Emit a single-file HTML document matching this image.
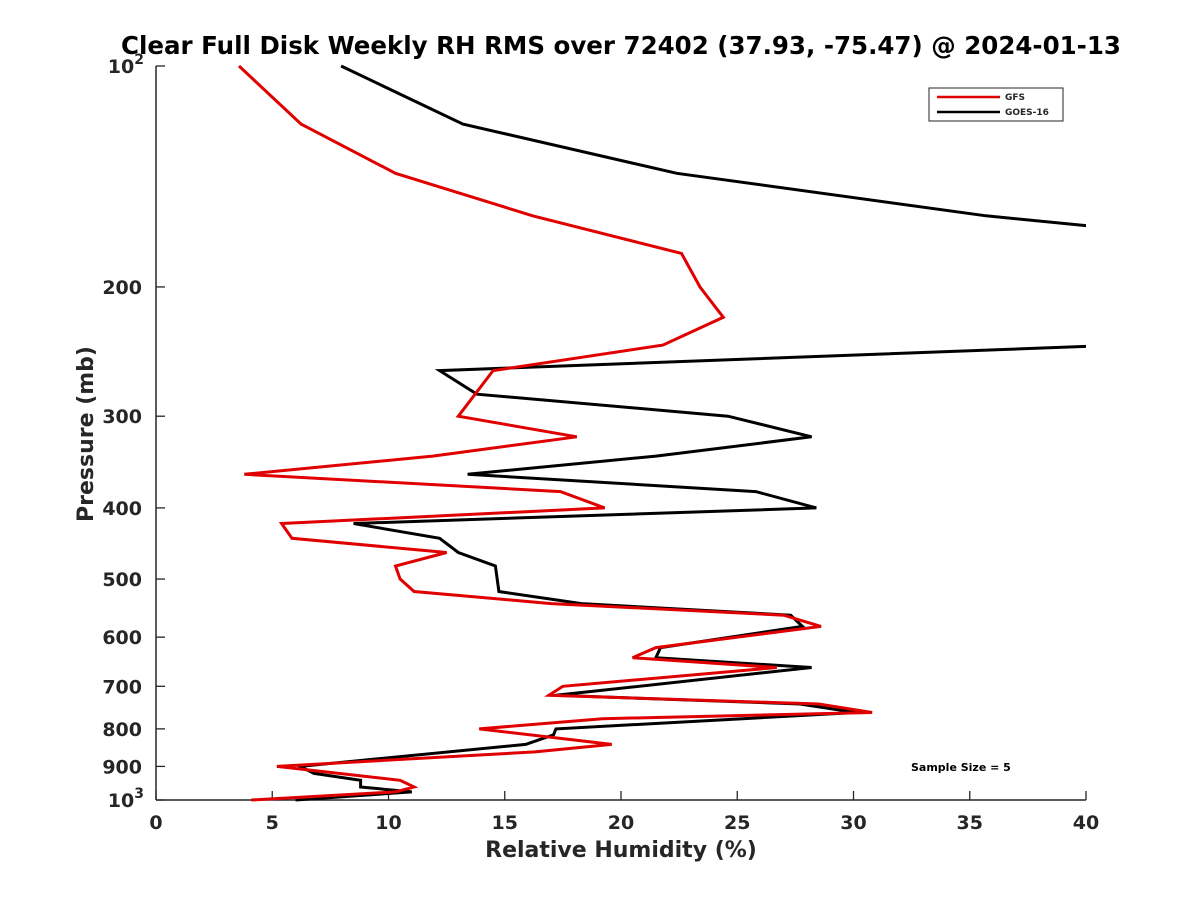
<!DOCTYPE html>
<html><head><meta charset="utf-8"><style>
body{margin:0;background:#fff;font-family:"Liberation Sans",sans-serif;}
svg text{font-family:"DejaVu Sans","Liberation Sans",sans-serif;font-weight:bold;fill:#262626;}
</style></head><body>
<svg id="chart" width="1200" height="900" xmlns="http://www.w3.org/2000/svg">
<rect width="1200" height="900" fill="#fff"/>
<text x="621" y="54" text-anchor="middle" font-size="24.5" style="fill:#000">Clear Full Disk Weekly RH RMS over 72402 (37.93, -75.47) @ 2024-01-13</text>
<defs><clipPath id="plotclip"><rect x="156" y="60" width="930" height="745"/></clipPath></defs>
<g id="axes"></g>
<g id="series" clip-path="url(#plotclip)"></g>
<text x="621" y="857" text-anchor="middle" font-size="22">Relative Humidity (%)</text>
<text transform="translate(93,434) rotate(-90)" text-anchor="middle" font-size="22">Pressure (mb)</text>
<g>
<rect x="929" y="88" width="134" height="33" fill="#fff" stroke="#262626" stroke-width="1"/>
<line x1="937" y1="97" x2="1000" y2="97" stroke="#e00000" stroke-width="2.5"/>
<text x="1005" y="100" font-size="9">GFS</text>
<line x1="937" y1="112" x2="1000" y2="112" stroke="#000" stroke-width="2.5"/>
<text x="1005" y="115" font-size="9">GOES-16</text>
</g>
<text x="911" y="771" font-size="11" style="fill:#000">Sample Size = 5</text>
</svg>
<script>
const gfsLevels=[100,120,140,160,180,200,220,240,260,300,320,340,360,380,400,420,440,460,480,500,520,540,560,580,620,640,660,700,720,740,760,775,800,840,860,900,940,960,975,1000];
const gfsValues=[3.57,6.24,10.3,16.2,22.6,23.4,24.4,21.8,14.5,13.0,18.1,11.9,3.8,17.4,19.3,5.4,5.85,12.5,10.3,10.5,11.1,17.0,27.0,28.6,21.5,20.5,26.7,17.5,16.9,28.5,30.8,19.2,13.9,19.6,16.3,5.2,10.5,11.1,10.3,4.1];
const goesLevels=[100,120,140,160,165,180,200,220,240,260,280,300,320,340,360,380,400,420,440,460,480,520,540,560,580,620,640,660,720,740,760,800,815,840,900,920,940,960,975,1000];
const goesValues=[7.96,13.2,22.4,35.7,40,60,75,70,41.5,12.2,13.8,24.6,28.2,21.5,13.4,25.8,28.4,8.5,12.2,13.0,14.6,14.75,18.3,27.3,27.8,21.7,21.5,28.2,17.2,27.7,30.1,17.2,17.1,15.9,6.2,6.8,8.8,8.8,11.0,6.0];
const xTicks=[0,5,10,15,20,25,30,35,40];
const yTicks=[100,200,300,400,500,600,700,800,900,1000];
const yTickLabels=["10|2","200","300","400","500","600","700","800","900","10|3"];
const X0=156,X1=1086,Y0=66,Y1=800;
const xs=v=>X0+(v/40)*(X1-X0);
const ys=p=>Y0+Math.log10(p/100)*(Y1-Y0);
const NS="http://www.w3.org/2000/svg";
const axes=document.getElementById('axes'),ser=document.getElementById('series');
function mk(tag,attrs,parent){const e=document.createElementNS(NS,tag);for(const k in attrs)e.setAttribute(k,attrs[k]);parent.appendChild(e);return e;}
let a=mk('line',{x1:X0,y1:Y1,x2:X1,y2:Y1,stroke:'#262626','stroke-width':1.5},axes);


a=mk('line',{x1:X0,y1:Y0,x2:X0,y2:Y1,stroke:'#262626','stroke-width':1.5},axes);


xTicks.forEach(v=>{const x=xs(v);
 mk('line',{x1:x,y1:Y1,x2:x,y2:Y1-9,stroke:'#262626','stroke-width':1.3},axes);
 const t=mk('text',{x:x,y:Y1+29,'text-anchor':'middle','font-size':19},axes);t.textContent=v;
 
 });
yTicks.forEach((p,i)=>{const y=ys(p);
 mk('line',{x1:X0,y1:y,x2:X0+9,y2:y,stroke:'#262626','stroke-width':1.3},axes);
 const lab=yTickLabels[i];
 const t=mk('text',{x:X0-14,y:y+7,'text-anchor':'end','font-size':19},axes);
 if(lab.indexOf('|')>=0){const [b,e]=lab.split('|');
   const s1=mk('tspan',{},t);s1.textContent=b;
   const s2=mk('tspan',{dy:-9,'font-size':14},t);s2.textContent=e;
   t.setAttribute('x',X0-12);
 } else t.textContent=lab;
 
 });
function drawLine(lv,vals,color,name){
 const d=lv.map((p,i)=>(i?'L':'M')+xs(vals[i]).toFixed(1)+','+ys(p).toFixed(1)).join('');
 const e=mk('path',{d:d,fill:'none',stroke:color,'stroke-width':3,'stroke-linejoin':'miter'},ser);
 
 }
drawLine(goesLevels,goesValues,'#000','goes16-line');
drawLine(gfsLevels,gfsValues,'#e00000','gfs-line');
</script>
</body></html>
